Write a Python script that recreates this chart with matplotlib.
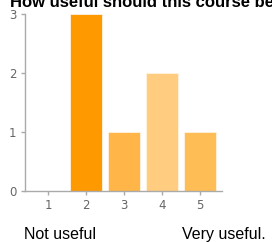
import matplotlib.pyplot as plt

# answers on the 1..5 scale
ratings = [1, 2, 3, 4, 5]
counts = [0, 3, 1, 2, 1]
colors = ["#ffb547", "#ff9900", "#ffb547", "#ffcc80", "#ffbd55"]

fig = plt.figure(figsize=(2.72, 2.42), dpi=100)
ax = fig.add_axes([25 / 272, 1 - 191 / 242, 197 / 272, 177 / 242])

ax.bar(ratings, counts, width=0.84, color=colors, edgecolor="#fff3e0", linewidth=0.6)

ax.set_xlim(0.39, 5.58)
ax.set_ylim(0, 3)
ax.set_xticks(ratings)
ax.set_yticks([0, 1, 2, 3])

for s in ["top", "right"]:
    ax.spines[s].set_visible(False)
for s in ["left", "bottom"]:
    ax.spines[s].set_color("#aaaaaa")
    ax.spines[s].set_linewidth(1)

ax.tick_params(axis="both", colors="#aaaaaa", labelcolor="#666666", labelsize=8.5,
               length=3, width=1)
ax.tick_params(axis="x", pad=3)
ax.tick_params(axis="y", pad=3)

fig.text(10 / 272, 1 - 7 / 242, "How useful should this course be?", fontsize=12,
         fontweight="bold", va="baseline", ha="left", family="Liberation Sans")
fig.text(24 / 272, 1 - 239 / 242, "Not useful", fontsize=11.5, va="baseline", ha="left",
         family="Liberation Sans")
fig.text(182 / 272, 1 - 239 / 242, "Very useful.", fontsize=11.5, va="baseline", ha="left",
         family="Liberation Sans")

fig.savefig("out.png", dpi=100)
